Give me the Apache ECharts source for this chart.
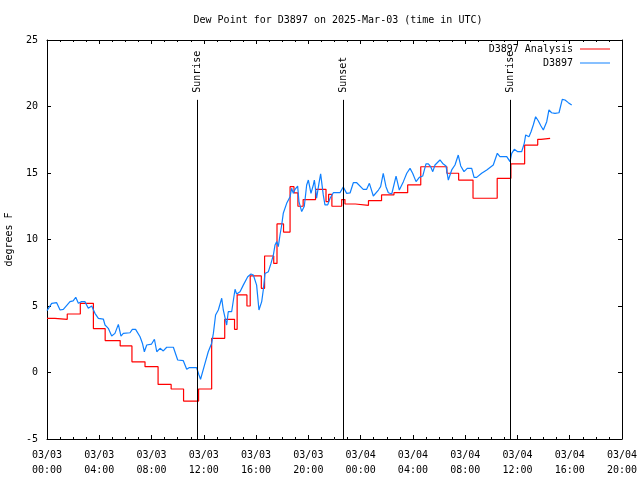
<!DOCTYPE html>
<html>
<head>
<meta charset="utf-8">
<script src="https://cdn.jsdelivr.net/npm/echarts@6/dist/echarts.min.js"></script>
<style>html,body{margin:0;padding:0;background:#fff}#c{width:640px;height:480px}</style>
</head>
<body>
<div id="c"></div>
<script>
// hours since 2025-03-03 00:00 UTC
var analysisHours = [0,0.6,1.55,2.55,3.55,4.45,5.6,6.5,7.5,8.5,9.5,10.45,11.6,12.6,13.6,14.35,14.55,15.3,15.55,16.4,16.65,17.35,17.6,18.1,18.6,18.9,19.2,19.6,20.55,21.35,21.55,21.8,22.55,22.8,23.6,24.6,25.6,26.55,27.6,28.6,30.6,31.5,32.6,34.45,35.5,36.55,37.55,37.8,38.5];
var analysisValues = [4.07,4.0,4.4,5.2,3.3,2.4,2.0,0.8,0.44,-0.9,-1.24,-2.15,-1.24,2.57,4.0,3.25,5.83,5.0,7.26,6.33,8.76,8.2,11.17,10.56,13.97,13.5,12.5,13.0,13.77,12.85,13.4,12.5,13.0,12.67,12.57,12.92,13.35,13.52,14.1,15.47,14.98,14.47,13.1,14.6,15.68,17.1,17.53,17.6,17.6];

var obsHours = [0,0.36,0.74,1.0,1.25,1.76,2.0,2.2,2.4,2.65,2.9,3.16,3.42,3.67,3.93,4.31,4.44,4.69,4.95,5.2,5.46,5.66,5.84,6.35,6.53,6.78,7.12,7.3,7.45,7.63,8.0,8.22,8.4,8.65,8.9,9.16,9.67,10.0,10.43,10.69,10.87,11.45,11.63,11.75,11.89,12.09,12.34,12.6,12.73,12.9,13.11,13.37,13.49,13.75,13.87,14.13,14.39,14.51,14.77,15.02,15.36,15.61,15.79,16.04,16.22,16.43,16.55,16.68,16.94,17.14,17.32,17.45,17.58,17.7,17.83,17.96,18.08,18.34,18.6,18.72,18.85,18.98,19.18,19.28,19.49,19.69,19.87,20.0,20.2,20.38,20.46,20.63,20.81,20.94,21.14,21.27,21.48,21.66,21.91,22.42,22.67,22.93,23.19,23.44,23.7,24.2,24.46,24.67,24.97,25.36,25.53,25.73,25.94,26.12,26.38,26.5,26.71,26.96,27.27,27.53,27.78,27.98,28.24,28.49,28.75,29.0,29.18,29.36,29.52,29.69,30.07,30.28,30.53,30.71,30.97,31.22,31.47,31.66,31.91,32.16,32.5,32.68,32.88,33.26,33.65,34.15,34.28,34.46,34.66,35.18,35.43,35.56,35.76,36.02,36.32,36.52,36.63,36.88,37.04,37.21,37.39,37.59,37.8,37.98,38.24,38.41,38.61,38.87,39.18,39.43,39.64,39.89,40.15];
var obsValues = [4.65,5.2,5.25,4.7,4.75,5.33,5.38,5.65,5.2,5.33,5.33,4.83,5.0,4.45,4.07,4.02,3.57,3.32,2.74,2.94,3.62,2.74,2.94,2.99,3.24,3.24,2.69,2.2,1.56,2.07,2.14,2.5,1.56,1.82,1.62,1.9,1.9,0.94,0.89,0.24,0.36,0.36,-0.19,-0.51,-0.44,0.69,1.56,2.2,2.94,4.32,4.7,5.58,4.7,3.57,4.57,4.57,6.26,5.9,6.07,6.57,7.2,7.41,7.33,6.57,4.7,5.33,6.2,7.45,7.58,8.2,8.83,9.59,9.84,9.46,10.34,11.09,11.97,12.72,13.22,13.85,13.47,13.77,14.02,12.85,12.1,12.5,14.1,14.47,13.47,14.1,14.47,13.1,14.22,14.93,13.35,12.6,12.6,13.1,13.52,13.52,13.95,13.47,13.5,14.27,14.27,13.77,13.77,14.22,13.27,13.72,13.97,14.98,13.97,13.52,13.42,13.52,14.77,13.72,14.35,14.98,15.35,14.98,14.35,14.67,14.77,15.68,15.68,15.47,15.1,15.6,15.98,15.72,15.53,14.47,15.23,15.6,16.35,15.53,15.1,15.35,15.35,14.67,14.67,14.98,15.23,15.6,15.98,16.48,16.23,16.23,15.85,16.48,16.78,16.6,16.6,17.23,17.86,17.73,18.1,18.61,19.23,18.93,18.53,18.23,18.86,19.74,19.53,19.48,19.53,20.54,20.49,20.29,20.11];

var sunHours = [11.48, 22.65, 35.4];
var sunLabels = ['Sunrise', 'Sunset', 'Sunrise'];
var sunLineTop = 20.5;

var dayLabels = ['03/03', '03/04'];
var yTicks = [-5, 0, 5, 10, 15, 20, 25];

function zip(a, b) { return a.map(function (v, i) { return [v, b[i]]; }); }
function pad(n) { return (n < 10 ? '0' : '') + n; }

var FONT = 'DejaVu Sans Mono';
var chart = echarts.init(document.getElementById('c'), null, {renderer: 'canvas'});
var xBase = {
  type: 'value', min: 0, max: 44, interval: 4,
  axisLine: {show: true, onZero: false, lineStyle: {color: '#000', width: 1}},
  axisTick: {show: true, inside: true, length: 4, lineStyle: {color: '#000'}},
  minorTick: {show: true, splitNumber: 4, length: 2, lineStyle: {color: '#000'}},
  splitLine: {show: false}
};
var yBase = {
  type: 'value', min: yTicks[0], max: yTicks[yTicks.length - 1], interval: 5,
  axisLine: {show: true, onZero: false, lineStyle: {color: '#000', width: 1}},
  axisTick: {show: true, inside: true, length: 4, lineStyle: {color: '#000'}},
  splitLine: {show: false}
};
var option = {
  animation: false,
  backgroundColor: '#fff',
  title: {
    text: 'Dew Point for D3897 on 2025-Mar-03 (time in UTC)',
    left: 333, top: 10, textAlign: 'center',
    textStyle: {fontFamily: FONT, fontSize: 10, fontWeight: 'normal', color: '#000'}
  },
  legend: {
    orient: 'vertical', right: 25, top: 39, align: 'right', itemGap: 4,
    itemWidth: 30, itemHeight: 10,
    textStyle: {fontFamily: FONT, fontSize: 10, color: '#000', padding: [0, 2, 0, 0]},
    data: [
      {name: 'D3897 Analysis', icon: 'path://M0,4.5L30,4.5L30,5.5L0,5.5Z'},
      {name: 'D3897', icon: 'path://M0,4.5L30,4.5L30,5.5L0,5.5Z'}
    ]
  },
  grid: {left: 47, right: 18, top: 40, bottom: 41, containLabel: false, outerBoundsMode: 'none'},
  xAxis: [
    Object.assign({}, xBase, {
      position: 'bottom',
      axisLabel: {
        show: true, margin: 9, color: '#000', fontFamily: FONT, fontSize: 10, lineHeight: 15,
        formatter: function (v) {
          var d = Math.floor(v / 24);
          return dayLabels[d] + '\n' + pad(v - 24 * d) + ':00';
        }
      }
    }),
    Object.assign({}, xBase, {position: 'top', axisLabel: {show: false}})
  ],
  yAxis: [
    Object.assign({}, yBase, {
      position: 'left',
      name: 'degrees F', nameLocation: 'middle', nameGap: 33, nameRotate: 90,
      nameTextStyle: {fontFamily: FONT, fontSize: 10, color: '#000'},
      axisLabel: {show: true, margin: 9, color: '#000', fontFamily: FONT, fontSize: 10}
    }),
    Object.assign({}, yBase, {position: 'right', axisLabel: {show: false}})
  ],
  series: [
    {
      name: 'D3897 Analysis', type: 'line', step: 'end', showSymbol: false, symbol: 'none',
      color: '#ff0000', lineStyle: {color: '#ff0000', width: 1.2},
      data: zip(analysisHours, analysisValues), z: 3
    },
    {
      name: 'D3897', type: 'line', showSymbol: false, symbol: 'none',
      color: '#0f80ff', lineStyle: {color: '#0f80ff', width: 1.2},
      data: zip(obsHours, obsValues), z: 4
    },
    {
      name: 'sun', type: 'custom', silent: true, z: 5,
      data: sunHours.map(function (h, i) { return [h, sunLabels[i]]; }),
      renderItem: function (params, api) {
        var h = api.value(0);
        var top = api.coord([h, sunLineTop]);
        var bot = api.coord([h, yTicks[0]]);
        var x = Math.round(top[0]) + 0.5;
        return {
          type: 'group',
          children: [
            {type: 'line', shape: {x1: x, y1: top[1], x2: x, y2: bot[1]}, style: {stroke: '#000', lineWidth: 1}},
            {type: 'text', x: x, y: top[1] - 7, rotation: Math.PI / 2,
             style: {text: sunLabels[params.dataIndex], fill: '#000', font: '10px "' + FONT + '"', align: 'left', verticalAlign: 'middle'}}
          ]
        };
      }
    }
  ]
};
chart.setOption(option);
</script>
</body>
</html>
